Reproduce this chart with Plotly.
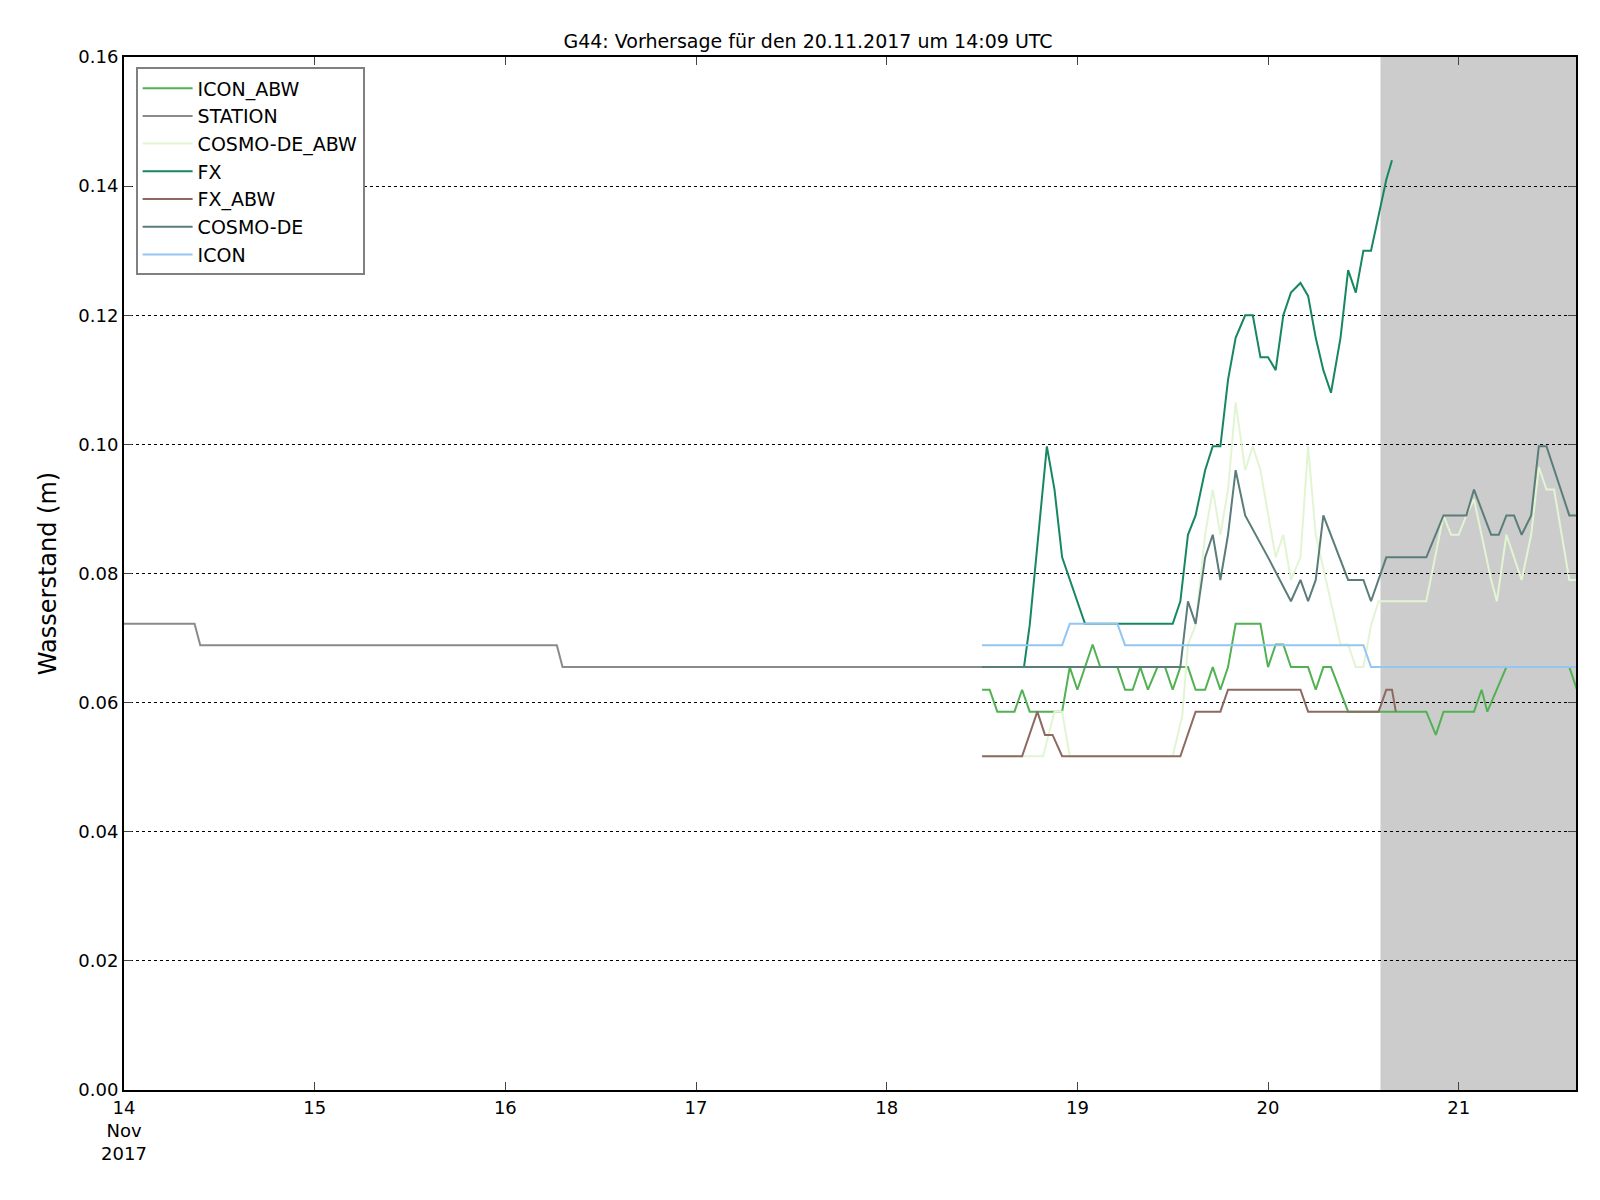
import plotly.graph_objects as go
import pandas as pd

# times as day-of-November 2017 (fractional days, UTC)
station_t = [14.0, 14.37, 14.4, 16.27, 16.3, 19.55]
station_v = [0.0722, 0.0722, 0.0689, 0.0689, 0.0655, 0.0655]

icon_abw_t = [18.5,18.54,18.58,18.67,18.71,18.75,18.92,18.96,19.0,19.08,19.12,19.21,19.25,19.29,19.33,19.37,19.42,19.46,19.5,19.54,19.58,19.62,19.67,19.71,19.75,19.79,19.83,19.96,20.0,20.04,20.08,20.12,20.21,20.25,20.29,20.33,20.42,20.83,20.88,20.92,21.08,21.12,21.15,21.25,21.58,21.62]
icon_abw_v = [0.062,0.062,0.0586,0.0586,0.062,0.0586,0.0586,0.0655,0.062,0.069,0.0655,0.0655,0.062,0.062,0.0655,0.062,0.0655,0.0655,0.062,0.0655,0.0655,0.062,0.062,0.0655,0.062,0.0655,0.0722,0.0722,0.0655,0.069,0.069,0.0655,0.0655,0.062,0.0655,0.0655,0.0586,0.0586,0.055,0.0586,0.0586,0.062,0.0586,0.0655,0.0655,0.062]

cosmo_abw_t = [18.5,18.82,18.88,18.92,18.96,19.46,19.5,19.55,19.58,19.62,19.67,19.71,19.75,19.79,19.83,19.88,19.92,19.96,20.04,20.08,20.12,20.17,20.21,20.25,20.33,20.38,20.42,20.46,20.5,20.54,20.58,20.83,20.92,20.96,21.0,21.04,21.08,21.17,21.2,21.25,21.33,21.38,21.42,21.46,21.5,21.58,21.62]
cosmo_abw_v = [0.0517,0.0517,0.0586,0.0586,0.0517,0.0517,0.0517,0.058,0.069,0.072,0.086,0.093,0.086,0.093,0.1065,0.096,0.0997,0.096,0.0825,0.086,0.079,0.0825,0.0997,0.086,0.0757,0.069,0.069,0.0655,0.0655,0.072,0.0757,0.0757,0.089,0.086,0.086,0.089,0.0915,0.079,0.0757,0.086,0.079,0.086,0.0965,0.093,0.093,0.079,0.079]

fx_t = [18.5,18.72,18.75,18.84,18.88,18.92,19.04,19.5,19.54,19.58,19.62,19.67,19.71,19.75,19.79,19.83,19.88,19.92,19.96,20.0,20.04,20.08,20.12,20.17,20.21,20.25,20.29,20.33,20.38,20.42,20.46,20.5,20.54,20.58,20.62,20.65]
fx_v = [0.0655,0.0655,0.072,0.0997,0.093,0.0825,0.0722,0.0722,0.0757,0.086,0.089,0.096,0.0997,0.0997,0.11,0.1165,0.12,0.12,0.1135,0.1135,0.1115,0.12,0.1235,0.125,0.123,0.1165,0.1115,0.108,0.1165,0.127,0.1235,0.13,0.13,0.1355,0.141,0.144]

fx_abw_t = [18.5,18.71,18.79,18.83,18.87,18.92,19.54,19.62,19.75,19.79,20.17,20.21,20.58,20.62,20.65,20.67]
fx_abw_v = [0.0517,0.0517,0.0586,0.055,0.055,0.0517,0.0517,0.0586,0.0586,0.062,0.062,0.0586,0.0586,0.062,0.062,0.0586]

cosmo_t = [18.5,19.54,19.58,19.62,19.67,19.71,19.75,19.79,19.83,19.88,20.0,20.12,20.17,20.21,20.25,20.29,20.42,20.5,20.54,20.62,20.83,20.92,21.04,21.08,21.17,21.21,21.25,21.29,21.33,21.38,21.42,21.46,21.58,21.62]
cosmo_v = [0.0655,0.0655,0.0757,0.0722,0.0825,0.086,0.079,0.086,0.096,0.089,0.0825,0.0757,0.079,0.0757,0.079,0.089,0.079,0.079,0.0757,0.0825,0.0825,0.089,0.089,0.093,0.086,0.086,0.089,0.089,0.086,0.089,0.0997,0.0997,0.089,0.089]

icon_t = [18.5,18.92,18.96,19.21,19.25,20.5,20.54,21.62]
icon_v = [0.0689,0.0689,0.0722,0.0722,0.0689,0.0689,0.0655,0.0655]

base = pd.Timestamp("2017-11-01")
def dt(ts):
    return [base + pd.Timedelta(days=t - 1) for t in ts]

series = [
    ("ICON_ABW", icon_abw_t, icon_abw_v, "#52b152"),
    ("STATION", station_t, station_v, "#8a8a8a"),
    ("COSMO-DE_ABW", cosmo_abw_t, cosmo_abw_v, "#e2f5d3"),
    ("FX", fx_t, fx_v, "#17875f"),
    ("FX_ABW", fx_abw_t, fx_abw_v, "#8c6a60"),
    ("COSMO-DE", cosmo_t, cosmo_v, "#5a7d7a"),
    ("ICON", icon_t, icon_v, "#93c6f2"),
]

fig = go.Figure()
for name, t, v, c in series:
    fig.add_trace(go.Scatter(x=dt(t), y=v, mode="lines", name=name,
                             line=dict(color=c, width=2)))

x_end = base + pd.Timedelta(days=20.615)
fig.add_shape(type="rect", xref="x", yref="paper",
              x0=pd.Timestamp("2017-11-20 14:09"), x1=x_end, y0=0, y1=1,
              fillcolor="#cccccc", line_width=0, layer="below")

tickvals = [pd.Timestamp(f"2017-11-{d}") for d in range(14, 22)]
ticktext = ["14<br>Nov<br>2017"] + [str(d) for d in range(15, 22)]

fig.update_layout(
    width=1600, height=1200,
    paper_bgcolor="white", plot_bgcolor="white",
    font=dict(family="DejaVu Sans", size=18, color="black"),
    margin=dict(l=116, r=32, t=49, b=118),
    title=dict(text="G44: Vorhersage für den 20.11.2017 um 14:09 UTC",
               x=0.5, xanchor="center", y=0.978, font=dict(size=19)),
    legend=dict(x=0.008, y=0.99, xanchor="left", yanchor="top",
                bordercolor="#808080", borderwidth=2, bgcolor="white",
                font=dict(size=19), itemwidth=50, tracegroupgap=4),
    xaxis=dict(range=[pd.Timestamp("2017-11-14"), x_end],
               tickvals=tickvals, ticktext=ticktext,
               showgrid=False, showline=True, linecolor="black", linewidth=2,
               mirror="ticks", ticks="inside", ticklen=8, zeroline=False),
    yaxis=dict(range=[0, 0.16], dtick=0.02, tickformat=".2f",
               showgrid=True, gridcolor="black", griddash="dot", gridwidth=1,
               showline=True, linecolor="black", linewidth=2,
               mirror="ticks", ticks="inside", ticklen=8, zeroline=False,
               title=dict(text="Wasserstand (m)", font=dict(size=24))),
)
fig.write_html("out.html")
